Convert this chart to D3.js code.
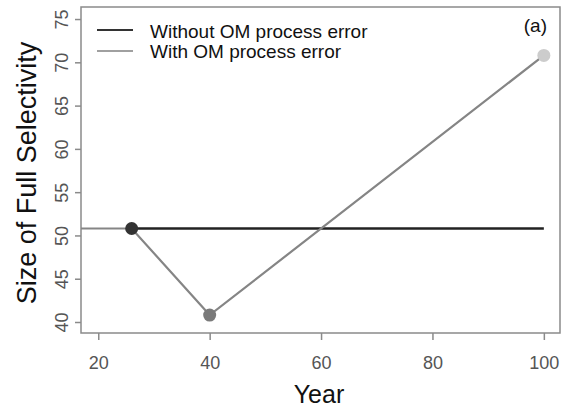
<!DOCTYPE html>
<html>
<head>
<meta charset="utf-8">
<script src="https://cdn.jsdelivr.net/npm/d3@7"></script>
<style>
  html, body { margin: 0; padding: 0; background: #fff; }
  svg { display: block; font-family: Arial, "Liberation Sans", sans-serif; }
</style>
</head>
<body>
<svg id="chart" width="565" height="413"></svg>
<script>
// Size of full selectivity by year, with and without operating-model process error
const seriesNames = ["Without OM process error", "With OM process error"];
const withoutYears = [26, 100];
const withoutValues = [50.8, 50.8];
const withYears = [1, 26, 40, 100];
const withValues = [50.8, 50.8, 40.8, 70.8];
const markerYears = [26, 40, 100];
const markerValues = [50.8, 40.8, 70.8];
const markerColors = ["#333333", "#7a7a7a", "#cccccc"];
const xTicks = [20, 40, 60, 80, 100];
const yTicks = [40, 45, 50, 55, 60, 65, 70, 75];
const panelLabel = "(a)";

const svg = d3.select("#chart");
const box = { left: 81, right: 560, top: 7, bottom: 333 };

const x = d3.scaleLinear().domain([16.9, 102.9]).range([box.left, box.right]);
const y = d3.scaleLinear().domain([38.73, 76.39]).range([box.bottom, box.top]);

svg.append("defs").append("clipPath").attr("id", "plotClip")
  .append("rect")
  .attr("x", box.left).attr("y", box.top)
  .attr("width", box.right - box.left).attr("height", box.bottom - box.top);

const axisColor = "#8a8a8a";
const tickTextColor = "#555555";

// Axes
const xAxis = svg.append("g")
  .attr("transform", `translate(0,${box.bottom})`)
  .call(d3.axisBottom(x).tickValues(xTicks).tickSize(7).tickPadding(0).tickFormat(d3.format("d")));
xAxis.select(".domain").remove();
xAxis.selectAll(".tick line").attr("stroke", axisColor).attr("stroke-width", 1.5);
xAxis.selectAll(".tick text")
  .attr("fill", tickTextColor).attr("font-size", 18)
  .attr("y", 36).attr("dy", null)
  .attr("font-family", "Arial, 'Liberation Sans', sans-serif");

const yAxis = svg.append("g")
  .attr("transform", `translate(${box.left},0)`)
  .call(d3.axisLeft(y).tickValues(yTicks).tickSize(6).tickFormat(d3.format("d")));
yAxis.select(".domain").remove();
yAxis.selectAll(".tick line").attr("stroke", axisColor).attr("stroke-width", 1.5);
yAxis.selectAll(".tick text")
  .attr("fill", tickTextColor).attr("font-size", 18)
  .attr("x", null).attr("dy", null)
  .attr("text-anchor", "middle")
  .attr("transform", "translate(-13,0) rotate(-90)")
  .attr("font-family", "Arial, 'Liberation Sans', sans-serif");

// Plot frame
svg.append("rect")
  .attr("x", box.left).attr("y", box.top)
  .attr("width", box.right - box.left).attr("height", box.bottom - box.top)
  .attr("fill", "none").attr("stroke", axisColor).attr("stroke-width", 1.5);

const line = d3.line().x(d => x(d[0])).y(d => y(d[1]));
const plot = svg.append("g").attr("clip-path", "url(#plotClip)");

plot.append("path")
  .datum(d3.zip(withoutYears, withoutValues))
  .attr("d", line).attr("fill", "none")
  .attr("stroke", "#222222").attr("stroke-width", 2.6);

plot.append("path")
  .datum(d3.zip(withYears, withValues))
  .attr("d", line).attr("fill", "none")
  .attr("stroke", "#858585").attr("stroke-width", 2.2);

plot.selectAll("circle")
  .data(d3.zip(markerYears, markerValues, markerColors))
  .join("circle")
  .attr("cx", d => x(d[0])).attr("cy", d => y(d[1]))
  .attr("r", 6.5).attr("fill", d => d[2]);

// Legend
const legendColors = ["#333333", "#a0a0a0"];
const legend = svg.append("g");
seriesNames.forEach((name, i) => {
  const ly = 30 + i * 21;
  legend.append("line")
    .attr("x1", 97).attr("x2", 133).attr("y1", ly).attr("y2", ly)
    .attr("stroke", legendColors[i]).attr("stroke-width", 2);
  legend.append("text")
    .attr("x", 150).attr("y", 37.5 + i * 20)
    .attr("font-size", 19).attr("fill", "#111")
    .text(name);
});

svg.append("text")
  .attr("x", 547).attr("y", 32)
  .attr("text-anchor", "end").attr("font-size", 19).attr("fill", "#111")
  .text(panelLabel);

// Axis titles
svg.append("text")
  .attr("x", 319).attr("y", 403)
  .attr("text-anchor", "middle").attr("font-size", 25).attr("fill", "#111")
  .text("Year");

svg.append("text")
  .attr("transform", "translate(36,173) rotate(-90)")
  .attr("text-anchor", "middle").attr("font-size", 27).attr("fill", "#111")
  .text("Size of Full Selectivity");
</script>
</body>
</html>
